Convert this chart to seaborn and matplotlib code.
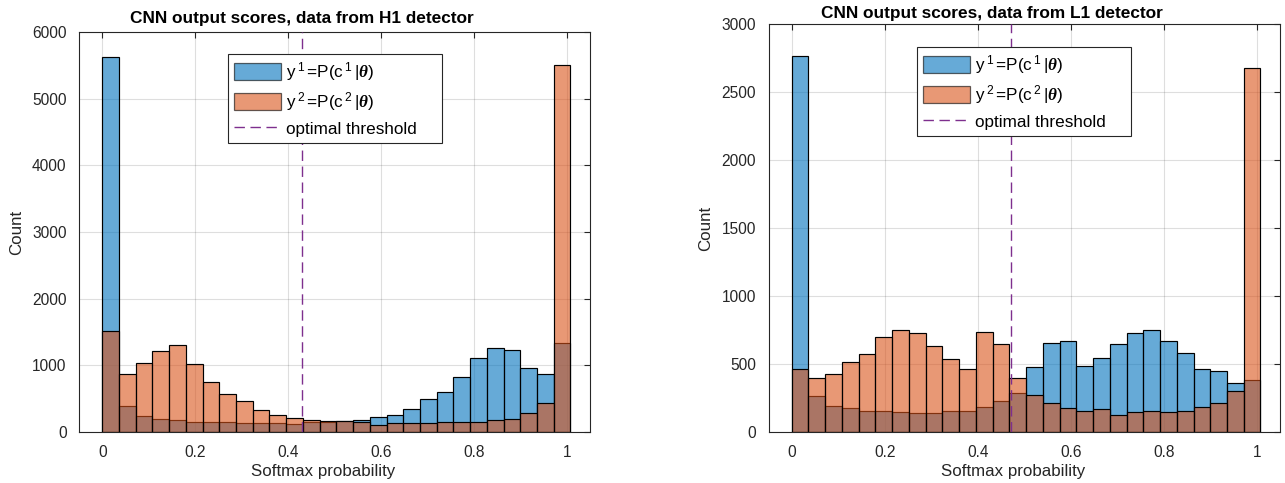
import numpy as np
import pandas as pd
import matplotlib
matplotlib.use("Agg")
import matplotlib.pyplot as plt
import seaborn as sns
from matplotlib.patches import Patch
from matplotlib.lines import Line2D

# ---------------- data ----------------
bin_width = 0.036
n_bins = 28

h1_y1 = [5620, 385, 235, 200, 175, 150, 150, 150, 135, 135, 135, 120, 150, 155,
         160, 175, 225, 260, 350, 495, 595, 820, 1105, 1265, 1230, 955, 865, 1330]
h1_y2 = [1510, 875, 1035, 1220, 1305, 1020, 755, 570, 460, 330, 250, 205, 175, 160,
         160, 150, 110, 135, 135, 135, 150, 150, 150, 185, 195, 285, 435, 5500]
h1_threshold = 0.43

l1_y1 = [2765, 265, 191, 179, 157, 154, 145, 137, 142, 157, 157, 186, 228, 284,
         480, 654, 672, 488, 544, 645, 725, 752, 672, 578, 461, 451, 363, 385]
l1_y2 = [461, 400, 424, 512, 574, 701, 748, 730, 630, 539, 461, 735, 645, 395,
         270, 213, 179, 152, 167, 127, 145, 157, 145, 157, 181, 211, 299, 2679]
l1_threshold = 0.471

titles = ["CNN output scores, data from H1 detector",
          "CNN output scores, data from L1 detector"]
xlabel = "Softmax probability"
ylabel = "Count"
legend_labels = [r"y$\,{}^{1}\,$=P(c$\,{}^{1}\,$|$\mathbfit{\theta}$)",
                 r"y$\,{}^{2}\,$=P(c$\,{}^{2}\,$|$\mathbfit{\theta}$)",
                 "optimal threshold"]
x_ticks = [0, 0.2, 0.4, 0.6, 0.8, 1]
h1_yticks = [0, 1000, 2000, 3000, 4000, 5000, 6000]
l1_yticks = [0, 500, 1000, 1500, 2000, 2500, 3000]

# ---------------- style ----------------
sns.set_theme(style="white")
plt.rcParams["font.family"] = ["Liberation Sans", "DejaVu Sans"]
plt.rcParams["mathtext.fontset"] = "custom"
plt.rcParams["mathtext.rm"] = "Liberation Sans"
plt.rcParams["mathtext.it"] = "Liberation Sans"
plt.rcParams["mathtext.bfit"] = "Liberation Serif:bold:italic"

BLUE = "#0072BD"
ORANGE = "#D95319"
PURPLE = "#7E2F8E"
AXC = "#262626"
DASH = (0, (7.5, 4))

edges = [i * bin_width for i in range(n_bins + 1)]
centers = [(edges[i] + edges[i + 1]) / 2 for i in range(n_bins)]

W, H = 1285, 483
fig = plt.figure(figsize=(W / 100, H / 100), dpi=100)
ax1 = fig.add_axes([79.1 / W, (H - 432) / H, 510.8 / W, 400 / H])
ax2 = fig.add_axes([768.5 / W, (H - 432) / H, 511.5 / W, 408 / H])

panels = [
    (ax1, h1_y1, h1_y2, h1_threshold, h1_yticks, titles[0], 6.3,
     (228 - 79.1) / 510.8, (432 - 54) / 400),
    (ax2, l1_y1, l1_y2, l1_threshold, l1_yticks, titles[1], 4.1,
     (916.7 - 768.5) / 511.5, (432 - 47.3) / 408),
]

for ax, y1, y2, thr, yt, title, tpad, lx, ly in panels:
    d1 = pd.DataFrame({"x": centers, "w": y1})
    d2 = pd.DataFrame({"x": centers, "w": y2})
    sns.histplot(data=d1, x="x", weights="w", bins=edges, ax=ax,
                 color=BLUE, alpha=0.6, edgecolor="black", linewidth=0.85)
    sns.histplot(data=d2, x="x", weights="w", bins=edges, ax=ax,
                 color=ORANGE, alpha=0.6, edgecolor="black", linewidth=0.85)
    ax.axvline(thr, color=PURPLE, linestyle=DASH, linewidth=1.0, zorder=5)

    ax.set_xlim(-0.05, 1.05)
    ax.set_ylim(yt[0], yt[-1])
    ax.set_xticks(x_ticks)
    ax.set_xticklabels([f"{t:g}" for t in x_ticks])
    ax.set_yticks(yt)
    ax.set_axisbelow(True)
    ax.grid(True, color=AXC, alpha=0.15, linewidth=0.8)
    ax.tick_params(direction="in", top=True, right=True, length=4.5, width=0.8,
                   colors=AXC, labelsize=11.2)
    ax.tick_params(axis="x", pad=9.4)
    ax.tick_params(axis="y", pad=9)
    for sp in ax.spines.values():
        sp.set_color(AXC)
        sp.set_linewidth(0.8)
        sp.set_visible(True)
    ax.set_xlabel(xlabel, fontsize=12.2, color=AXC, labelpad=4.5)
    ax.xaxis.set_label_coords(0.478, -0.081 if ax is ax1 else -0.079)
    ax.set_ylabel(ylabel, fontsize=12.2, color=AXC, labelpad=6)
    ax.set_title(title, fontsize=12.4, fontweight="bold", color="black",
                 pad=tpad, x=0.437)

    handles = [Patch(facecolor=BLUE, alpha=0.6, edgecolor="black", linewidth=0.9),
               Patch(facecolor=ORANGE, alpha=0.6, edgecolor="black", linewidth=0.9),
               Line2D([0], [0], color=PURPLE, linestyle=DASH, linewidth=1.0)]
    labels_padded = legend_labels[:2] + [legend_labels[2] + "\u00a0" * 4]
    leg = ax.legend(handles, labels_padded, loc="upper left",
                    bbox_to_anchor=(lx, ly), borderaxespad=0,
                    fontsize=12.3, frameon=True, fancybox=False, framealpha=1,
                    edgecolor=AXC, handlelength=2.75, handleheight=1.15,
                    handletextpad=0.3, labelspacing=0.4, borderpad=0.35)
    leg.get_frame().set_linewidth(0.8)
    leg.set_zorder(10)
    for txt in leg.get_texts():
        txt.set_color("black")

fig.savefig("out.png", dpi=100)
